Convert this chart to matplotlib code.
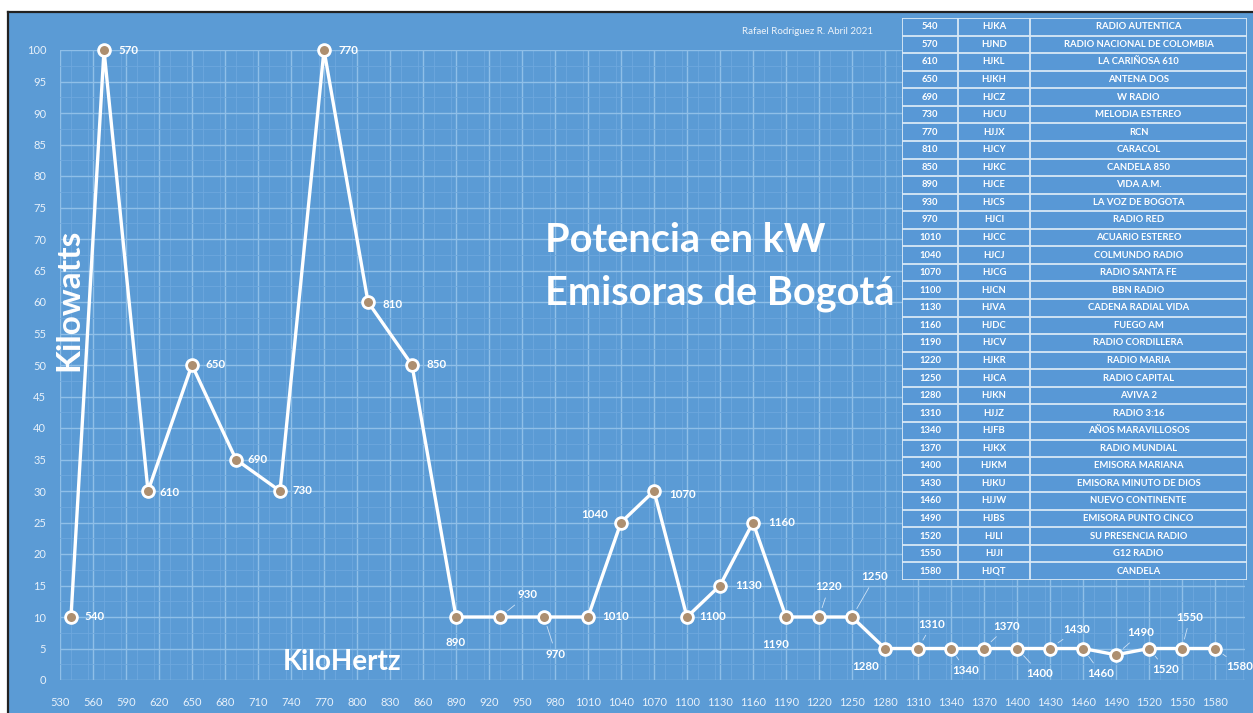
import matplotlib
matplotlib.use("Agg")
import matplotlib.pyplot as plt
from matplotlib.patches import Rectangle
from matplotlib.lines import Line2D
from matplotlib.ticker import MultipleLocator

plt.rcParams['font.family'] = ['Lato', 'DejaVu Sans']

# ---------------- data ----------------
freqs = [540, 570, 610, 650, 690, 730, 770, 810, 850, 890, 930, 970, 1010, 1040,
         1070, 1100, 1130, 1160, 1190, 1220, 1250, 1280, 1310, 1340, 1370, 1400,
         1430, 1460, 1490, 1520, 1550, 1580]
power_kw = [10, 100, 30, 50, 35, 30, 100, 60, 50, 10, 10, 10, 10, 25,
            30, 10, 15, 25, 10, 10, 10, 5, 5, 5, 5, 5,
            5, 5, 4, 5, 5, 5]
callsigns = ["HJKA", "HJND", "HJKL", "HJKH", "HJCZ", "HJCU", "HJJX", "HJCY", "HJKC",
             "HJCE", "HJCS", "HJCI", "HJCC", "HJCJ", "HJCG", "HJCN", "HJVA", "HJDC",
             "HJCV", "HJKR", "HJCA", "HJKN", "HJJZ", "HJFB", "HJKX", "HJKM", "HJKU",
             "HJJW", "HJBS", "HJLI", "HJJI", "HJQT"]
names = ["RADIO AUTENTICA", "RADIO NACIONAL DE COLOMBIA", "LA CARIÑOSA 610",
         "ANTENA DOS", "W RADIO", "MELODIA ESTEREO", "RCN", "CARACOL", "CANDELA 850",
         "VIDA A.M.", "LA VOZ DE BOGOTA", "RADIO RED", "ACUARIO ESTEREO",
         "COLMUNDO RADIO", "RADIO SANTA FE", "BBN RADIO", "CADENA RADIAL VIDA",
         "FUEGO AM", "RADIO CORDILLERA", "RADIO MARIA", "RADIO CAPITAL", "AVIVA 2",
         "RADIO 3:16", "AÑOS MARAVILLOSOS", "RADIO MUNDIAL", "EMISORA MARIANA",
         "EMISORA MINUTO DE DIOS", "NUEVO CONTINENTE", "EMISORA PUNTO CINCO",
         "SU PRESENCIA RADIO", "G12 RADIO", "CANDELA"]
x_ticks = list(range(530, 1581, 30))
y_ticks = list(range(0, 101, 5))

# label placement (offset in pixels, alignment, leader line)
label_pos = {
    540: (13, 0, 'left', False), 570: (14, 0, 'left', False),
    610: (12, -2, 'left', False), 650: (13, 0, 'left', False),
    690: (11, 0, 'left', False), 730: (12, 0, 'left', False),
    770: (14, 0, 'left', False), 810: (14, -2, 'left', False),
    850: (14, 0, 'left', False), 890: (0, -25, 'center', False),
    930: (27, 22, 'center', True), 970: (12, -37, 'center', True),
    1010: (14, 0, 'left', False), 1040: (-13, 8, 'right', False),
    1070: (15, -3, 'left', False), 1100: (12, 0, 'left', False),
    1130: (15, 0, 'left', False), 1160: (15, 0, 'left', False),
    1190: (-10, -27, 'center', False), 1220: (10, 30, 'center', True),
    1250: (23, 40, 'center', True), 1280: (-19, -18, 'center', False),
    1310: (14, 24, 'center', True), 1340: (15, -22, 'center', True),
    1370: (23, 22, 'center', True), 1400: (23, -25, 'center', True),
    1430: (27, 19, 'center', True), 1460: (18, -25, 'center', True),
    1490: (25, 22, 'center', True), 1520: (17, -21, 'center', True),
    1550: (8, 31, 'center', True), 1580: (25, -18, 'center', True),
}

BG = '#5b9bd5'
W, H = 1253, 713
fig = plt.figure(figsize=(W / 100, H / 100), dpi=100, facecolor='white')

# blue chart area + black frame (top & left)
bg = Rectangle((8 / W, 0), 1 - 8 / W, (H - 12) / H, transform=fig.transFigure,
               facecolor=BG, edgecolor='none', zorder=-10)
fig.patches.append(bg)
fig.lines.append(Line2D([8 / W, 1], [(H - 12) / H] * 2, transform=fig.transFigure,
                        color='#222222', lw=1.6, zorder=-5))
fig.lines.append(Line2D([8 / W] * 2, [0, (H - 12) / H], transform=fig.transFigure,
                        color='#222222', lw=1.6, zorder=-5))

ax = fig.add_axes([60 / W, (H - 680) / H, (1245 - 60) / W, (680 - 50) / H])
ax.set_facecolor('none')
ax.set_xlim(530, 530 + (1245 - 60) / 1.1)
ax.set_ylim(0, 100)
for s in ax.spines.values():
    s.set_visible(False)

ax.set_xticks(x_ticks)
ax.set_yticks(y_ticks)
ax.xaxis.set_minor_locator(MultipleLocator(15))
ax.yaxis.set_minor_locator(MultipleLocator(2.5))
ax.grid(True, which='major', color='#8fbfe8', lw=1.0)
ax.grid(True, which='minor', color='#6ea8de', lw=0.6)
ax.set_axisbelow(True)
ax.tick_params(axis='both', which='both', length=0, colors='#e8f1fa', labelsize=8)
ax.tick_params(axis='y', pad=10)
ax.tick_params(axis='x', pad=12)

ax.plot(freqs, power_kw, color='white', lw=2.4, marker='o', markersize=8.5,
        markerfacecolor='#ad8f70', markeredgecolor='white', markeredgewidth=2.0,
        clip_on=False, zorder=5)

for f, v in zip(freqs, power_kw):
    dx, dy, ha, leader = label_pos[f]
    kw = {}
    if leader:
        kw['arrowprops'] = dict(arrowstyle='-', color='#cfe2f5', lw=0.6,
                                shrinkA=2, shrinkB=7)
    ax.annotate(str(f), (f, v), xytext=(dx, dy), textcoords='offset pixels',
                ha=ha, va='center', fontsize=8.3, fontweight='bold', color='white',
                annotation_clip=False, zorder=6, **kw)

# text annotations
fig.text(545 / W, 1 - 240 / H, "Potencia en kW", fontsize=28.5, fontweight='bold',
         color='white', ha='left', va='center')
fig.text(545 / W, 1 - 293 / H, "Emisoras de Bogotá", fontsize=28.5, fontweight='bold',
         color='white', ha='left', va='center')
fig.text(69 / W, 1 - 300 / H, "Kilowatts", fontsize=24, fontweight='bold',
         color='white', rotation=90, ha='center', va='center')
fig.text(342 / W, 1 - 662 / H, "KiloHertz", fontsize=20, fontweight='bold',
         color='white', ha='center', va='center')
fig.text(808 / W, 1 - 32 / H, "Rafael Rodriguez R. Abril 2021", fontsize=7,
         color='#eef4fb', ha='center', va='center')

# ---------------- table ----------------
tx0, tx1, ty0, ty1 = 902, 1247, 18, 580
tax = fig.add_axes([tx0 / W, (H - ty1) / H, (tx1 - tx0) / W, (ty1 - ty0) / H])
n = len(freqs)
tw = tx1 - tx0
cols = [0, 56, 128, tw]
tax.set_xlim(0, tw)
tax.set_ylim(n, 0)
tax.axis('off')
tax.add_patch(Rectangle((0, 0), tw, n, facecolor='#5898d6', edgecolor='none', zorder=0))
lc = '#d8e8f6'
for i in range(n + 1):
    tax.plot([0, tw], [i, i], color=lc, lw=1.3, solid_capstyle='butt')
for c in cols:
    tax.plot([c, c], [0, n], color=lc, lw=1.3)
for i, (f, cs, nm) in enumerate(zip(freqs, callsigns, names)):
    yc = i + 0.5
    for c0, c1, txt in [(cols[0], cols[1], str(f)), (cols[1], cols[2], cs),
                        (cols[2], cols[3], nm)]:
        tax.text((c0 + c1) / 2, yc, txt, ha='center', va='center', fontsize=6.8,
                 fontweight='bold', color='white')

fig.savefig('out.png', dpi=100, facecolor='white')
